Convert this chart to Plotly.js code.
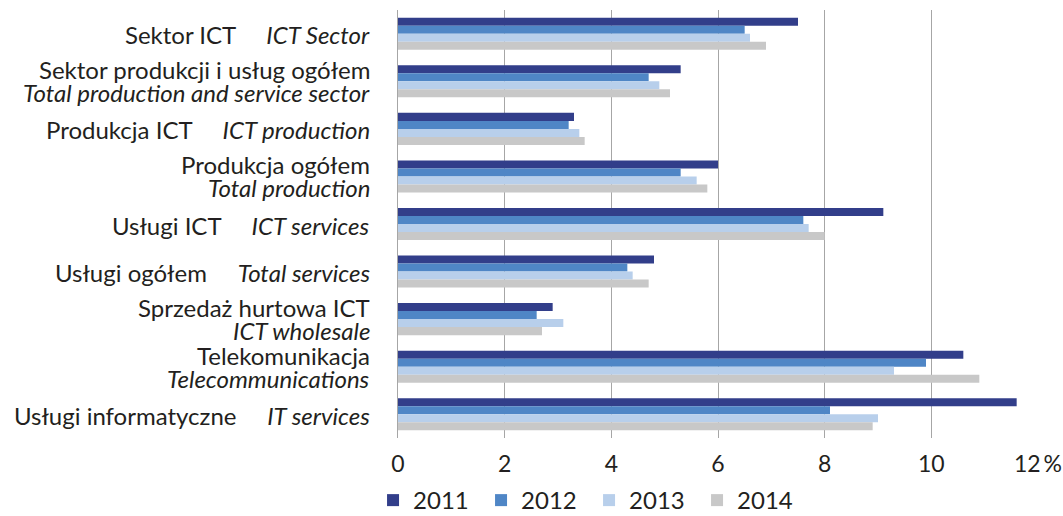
<!DOCTYPE html>
<html>
<head>
<meta charset="utf-8">
<script src="https://cdn.plot.ly/plotly-3.0.1.min.js"></script>
<style>html,body{margin:0;padding:0;background:#fff;}#chart{width:1063px;height:516px;}</style>
</head>
<body>
<div id="chart"></div>
<script>
const categoriesPl = [
  "Sektor ICT",
  "Sektor produkcji i usług ogółem",
  "Produkcja ICT",
  "Produkcja ogółem",
  "Usługi ICT",
  "Usługi ogółem",
  "Sprzedaż hurtowa ICT",
  "Telekomunikacja",
  "Usługi informatyczne"
];
const categoriesEn = [
  "ICT Sector",
  "Total production and service sector",
  "ICT production",
  "Total production",
  "ICT services",
  "Total services",
  "ICT wholesale",
  "Telecommunications",
  "IT services"
];
const twoLine = [false, true, false, true, false, false, true, true, false];

const years = ["2011", "2012", "2013", "2014"];
const values2011 = [7.5, 5.3, 3.3, 6.0, 9.1, 4.8, 2.9, 10.6, 11.6];
const values2012 = [6.5, 4.7, 3.2, 5.3, 7.6, 4.3, 2.6, 9.9, 8.1];
const values2013 = [6.6, 4.9, 3.4, 5.6, 7.7, 4.4, 3.1, 9.3, 9.0];
const values2014 = [6.9, 5.1, 3.5, 5.8, 8.0, 4.7, 2.7, 10.9, 8.9];
const xTickVals = [0, 2, 4, 6, 8, 10, 12];
const xTickText = ["0", "2", "4", "6", "8", "10", "12\u2009%"];

const colors = ["#323e8a", "#4f86c6", "#b8cfeb", "#c8c8c8"];
const seriesValues = [values2011, values2012, values2013, values2014];

const FONT = "Lato, 'Open Sans', sans-serif";
const TXT = "#231f20";

const traces = years.map((y, k) => ({
  type: "bar",
  orientation: "h",
  name: y,
  x: seriesValues[k],
  y: categoriesPl,
  marker: {color: colors[k], line: {width: 0}},
  hoverinfo: "skip"
}));

// Category labels: right-aligned text beside the y axis, placed at each category via the y scale
const gap = "\u00a0\u00a0\u00a0\u00a0\u00a0";
const labelX = -0.041;
const annotations = [];
categoriesPl.forEach((p, i) => {
  const base = {
    xref: "paper", yref: "y", x: labelX, y: p,
    xanchor: "right", yanchor: "middle", showarrow: false,
    align: "right",
    font: {family: FONT, size: 24, color: TXT}
  };
  if (twoLine[i]) {
    annotations.push(Object.assign({}, base, {text: p, yshift: 11.5}));
    annotations.push(Object.assign({}, base, {text: "<i>" + categoriesEn[i] + "</i>", yshift: -11.5}));
  } else {
    annotations.push(Object.assign({}, base, {text: p + gap + "<i>" + categoriesEn[i] + "</i>", yshift: -1}));
  }
});

const layout = {
  width: 1063,
  height: 516,
  margin: {l: 398, r: 25, t: 10, b: 78},
  paper_bgcolor: "#ffffff",
  plot_bgcolor: "#ffffff",
  font: {family: FONT, size: 24, color: TXT},
  barmode: "group",
  bargap: 0.326,
  bargroupgap: 0,
  showlegend: true,
  legend: {
    orientation: "h",
    xref: "paper",
    x: -0.039,
    xanchor: "left",
    yref: "container",
    y: 0.03,
    yanchor: "middle",
    font: {family: FONT, size: 24, color: TXT},
    entrywidth: 63,
    entrywidthmode: "pixels",
    traceorder: "normal"
  },
  annotations: annotations,
  xaxis: {
    range: [0, 12],
    tickvals: xTickVals,
    ticktext: xTickText,
    showgrid: true,
    gridcolor: "#a6a6a6",
    gridwidth: 1,
    zeroline: false,
    showline: false,
    ticks: "",
    ticklabelstandoff: 10,
    ticklabeloverflow: "allow",
    tickfont: {family: FONT, size: 23, color: TXT},
    automargin: false,
    fixedrange: true
  },
  yaxis: {
    type: "category",
    categoryorder: "array",
    categoryarray: categoriesPl,
    autorange: "reversed",
    showline: true,
    linecolor: "#a6a6a6",
    linewidth: 1,
    showgrid: false,
    ticks: "",
    showticklabels: false,
    automargin: false,
    fixedrange: true
  }
};

Plotly.newPlot("chart", traces, layout, {displayModeBar: false, staticPlot: true});
</script>
</body>
</html>
